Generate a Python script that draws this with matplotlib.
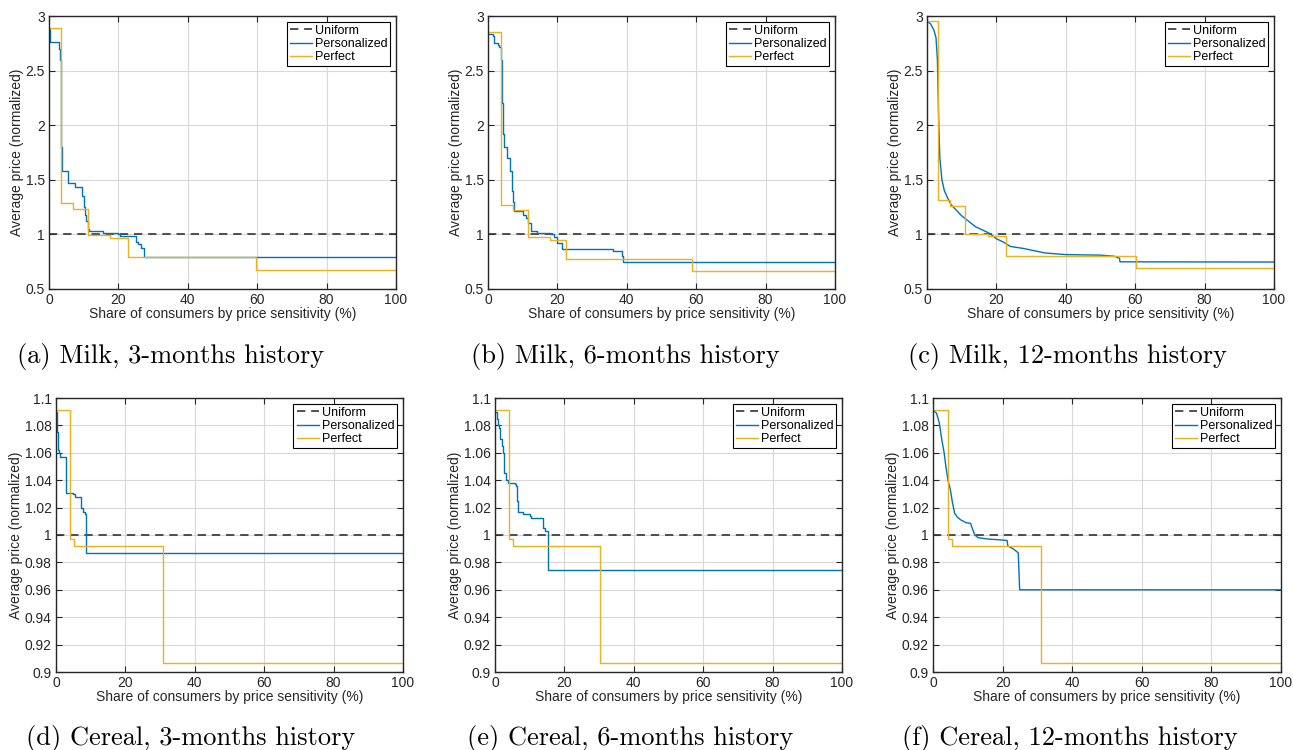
import numpy as np
import matplotlib
matplotlib.use("Agg")
import matplotlib.pyplot as plt
from matplotlib.ticker import FormatStrFormatter

plt.rcParams['font.family'] = ['Liberation Sans', 'DejaVu Sans']

# ---- data ----
# Milk, 3 months
a_perf_x = [0, 3.46, 6.8, 11.2, 17.6, 22.7, 59.7, 100]
a_perf_y = [2.893, 1.289, 1.237, 0.99, 0.963, 0.792, 0.677, 0.677]
a_pers_x = [0, 0.3, 3.0, 3.2, 3.4, 3.6, 3.75, 5.5, 7.6, 9.6, 10.0, 10.4, 10.8, 11.2,
            11.6, 15.5, 19.8, 20.5, 25.0, 25.6, 26.4, 27.3, 100]
a_pers_y = [2.88, 2.76, 2.70, 2.6, 2.2, 1.8, 1.578, 1.474, 1.432, 1.35, 1.25, 1.18, 1.12,
            1.05, 1.027, 1.01, 1.0, 0.985, 0.93, 0.91, 0.88, 0.795, 0.795]

# Milk, 6 months
b_perf_x = [0, 3.84, 7.3, 11.5, 17.8, 22.6, 58.9, 100]
b_perf_y = [2.851, 1.267, 1.219, 0.975, 0.951, 0.777, 0.667, 0.667]
b_pers_x = [0, 1.5, 1.6, 3.0, 3.2, 3.7, 4.0, 4.3, 4.6, 5.5, 6.4, 6.8, 7.2, 7.6, 10.0,
            11.0, 11.5, 12.5, 14.0, 18.0, 19.0, 20.0, 21.2, 36.0, 38.5, 38.8, 100]
b_pers_y = [2.835, 2.82, 2.753, 2.73, 2.72, 2.6, 2.2, 1.92, 1.8, 1.7, 1.58, 1.4, 1.3,
            1.21, 1.18, 1.15, 1.1, 1.03, 1.01, 1.0, 0.98, 0.92, 0.865, 0.844, 0.798, 0.75, 0.75]

# Milk, 12 months
c_perf_x = [0, 3.26, 6.5, 10.9, 17.5, 22.8, 60.2, 100]
c_perf_y = [2.951, 1.313, 1.258, 1.002, 0.981, 0.805, 0.692, 0.692]
c_pers_x = [0, 1, 2, 2.6, 3.0, 3.4, 3.7, 4.3, 5, 6, 7, 8.5, 10, 12, 14, 16, 18, 20,
            22, 24, 28, 31, 34, 40, 50, 54, 55.5, 55.6, 100]
c_pers_y = [2.95, 2.93, 2.87, 2.8, 2.6, 2.0, 1.7, 1.5, 1.4, 1.33, 1.27, 1.22, 1.17,
            1.12, 1.07, 1.04, 1.01, 0.96, 0.93, 0.89, 0.87, 0.85, 0.83, 0.815, 0.81,
            0.8, 0.78, 0.749, 0.747]

# Cereal, 3 months
d_perf_x = [0, 4.1, 5.1, 30.7, 100]
d_perf_y = [1.0912, 0.9971, 0.9922, 0.9068, 0.9068]
d_pers_x = [0, 0.3, 0.6, 1.0, 1.2, 2.6, 2.8, 4.5, 5.0, 5.5, 7.2, 7.3, 7.8, 8.4, 8.55, 100]
d_pers_y = [1.09, 1.075, 1.062, 1.06, 1.057, 1.057, 1.031, 1.031, 1.030, 1.028, 1.028,
            1.02, 1.017, 1.015, 0.9866, 0.9866]

# Cereal, 6 months
e_perf_x = [0, 4.1, 5.1, 30.4, 100]
e_perf_y = [1.0912, 0.9971, 0.9922, 0.9068, 0.9068]
e_pers_x = [0, 0.5, 1.0, 1.2, 1.5, 2.0, 2.3, 2.6, 3.2, 3.8, 5.8, 6.0, 6.3, 6.5, 8.0, 10.0,
            10.5, 13.5, 13.7, 14.5, 15.2, 15.35, 15.4, 100]
e_pers_y = [1.09, 1.085, 1.08, 1.078, 1.07, 1.065, 1.06, 1.045, 1.04, 1.038, 1.037,
            1.036, 1.025, 1.0166, 1.015, 1.014, 1.0125, 1.0125, 1.005, 1.003, 1.0, 0.998,
            0.9741, 0.9741]

# Cereal, 12 months
f_perf_x = [0, 4.3, 5.4, 31.0, 100]
f_perf_y = [1.0912, 0.9971, 0.9922, 0.9068, 0.9068]
f_pers_x = [0, 1, 1.8, 2.5, 3.2, 3.7, 4.3, 5, 5.5, 6.2, 7, 8, 9.5, 10.8, 11.4, 12, 13,
            16, 19, 21.3, 21.5, 23, 24.5, 24.9, 100]
f_pers_y = [1.091, 1.089, 1.082, 1.07, 1.06, 1.05, 1.04, 1.033, 1.025, 1.016, 1.013,
            1.011, 1.009, 1.0085, 1.004, 1.0, 0.998, 0.997, 0.9965, 0.996, 0.992, 0.99,
            0.987, 0.96, 0.96]

captions = ["(a) Milk, 3-months history", "(b) Milk, 6-months history",
            "(c) Milk, 12-months history", "(d) Cereal, 3-months history",
            "(e) Cereal, 6-months history", "(f) Cereal, 12-months history"]

panels = [
    (a_pers_x, a_pers_y, a_perf_x, a_perf_y, True, 'milk'),
    (b_pers_x, b_pers_y, b_perf_x, b_perf_y, True, 'milk'),
    (c_pers_x, c_pers_y, c_perf_x, c_perf_y, False, 'milk'),
    (d_pers_x, d_pers_y, d_perf_x, d_perf_y, True, 'cereal'),
    (e_pers_x, e_pers_y, e_perf_x, e_perf_y, True, 'cereal'),
    (f_pers_x, f_pers_y, f_perf_x, f_perf_y, False, 'cereal'),
]

# axes boxes in pixels: left, right, top, bottom
W, H = 1293, 750
boxes = [(49, 396, 16, 289), (488, 835, 16, 289), (927, 1274, 16, 289),
         (56, 403, 398, 672), (495, 842, 398, 672), (933, 1281, 398, 672)]
cap_pos = [(171, 357), (625, 357), (1067, 357), (191, 738), (630, 738), (1070, 738)]

blue = '#0072BD'
yellow = '#EDB120'
edge = '#262626'

fig = plt.figure(figsize=(W / 100, H / 100), dpi=100)

for i, (px, py, qx, qy, stepped, kind) in enumerate(panels):
    l, r, t, b = boxes[i]
    ax = fig.add_axes([l / W, 1 - b / H, (r - l) / W, (b - t) / H])
    ax.axhline(1.0, color='#333333', ls=(0, (5, 3.5)), lw=1.2, label='Uniform')
    if stepped:
        ax.step(px, py, where='post', color=blue, lw=1.0, label='Personalized')
    else:
        ax.plot(px, py, color=blue, lw=1.0, label='Personalized')
    ax.step(qx, qy, where='post', color=yellow, lw=1.0, label='Perfect')

    ax.set_xlim(0, 100)
    ax.set_xticks(np.arange(0, 101, 20))
    if kind == 'milk':
        ax.set_ylim(0.5, 3)
        ax.set_yticks(np.arange(0.5, 3.01, 0.5))
    else:
        ax.set_ylim(0.9, 1.1)
        ax.set_yticks(np.arange(0.9, 1.1001, 0.02))
    ax.yaxis.set_major_formatter(FormatStrFormatter('%g'))
    ax.grid(True, color='#d9d9d9', lw=0.8)
    ax.set_axisbelow(True)
    for s in ax.spines.values():
        s.set_color(edge)
        s.set_linewidth(1.0)
    ax.tick_params(direction='in', top=True, right=True, length=4, width=0.8,
                   colors=edge, labelsize=10, labelcolor='#262626', pad=3)
    ax.set_xlabel('Share of consumers by price sensitivity (%)', fontsize=10,
                  color='#262626', labelpad=0)
    ax.set_ylabel('Average price (normalized)', fontsize=10, color='#262626', labelpad=1)
    leg = ax.legend(loc='upper right', fontsize=9, fancybox=False, framealpha=1,
                    edgecolor='black', borderpad=0.25, labelspacing=0.1,
                    handlelength=1.8, handletextpad=0.2, borderaxespad=0.45)
    leg.get_frame().set_linewidth(0.8)

    cx, cy = cap_pos[i]
    fig.text(cx / W, 1 - cy / H, captions[i], ha='center', va='center',
             fontsize=19, family=['cmr10', 'DejaVu Serif'])

fig.savefig('out.png', dpi=100)
